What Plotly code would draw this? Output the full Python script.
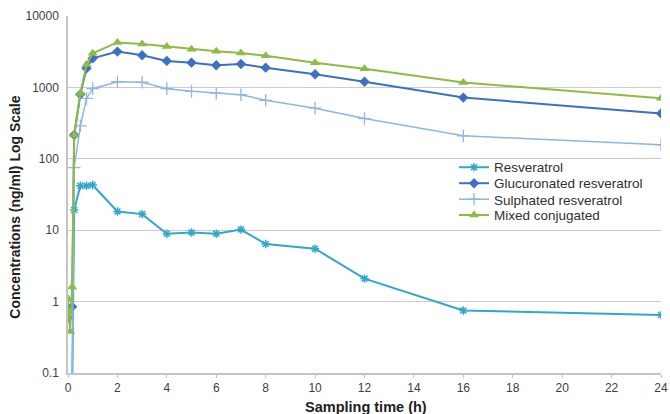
import plotly.graph_objects as go

# Sampling times (h)
t_res = [0.167, 0.25, 0.5, 0.75, 1, 2, 3, 4, 5, 6, 7, 8, 10, 12, 16, 24]
resveratrol = [0.05, 19.2, 42, 42, 43, 18.3, 16.8, 8.9, 9.3, 8.9, 10.2, 6.4, 5.5, 2.1, 0.75, 0.65]

t_glu = [0, 0.167, 0.25, 0.5, 0.75, 1, 2, 3, 4, 5, 6, 7, 8, 10, 12, 16, 24]
glucuronated = [0.6, 0.85, 215, 800, 1850, 2560, 3170, 2820, 2350, 2220, 2040, 2130, 1890, 1530, 1200, 720, 430]

t_sul = [0.167, 0.25, 0.5, 0.75, 1, 2, 3, 4, 5, 6, 7, 8, 10, 12, 16, 24]
sulphated = [0.05, 75, 290, 700, 960, 1200, 1180, 960, 880, 830, 790, 660, 512, 366, 210, 157]

t_mix = [0, 0.083, 0.167, 0.25, 0.5, 0.75, 1, 2, 3, 4, 5, 6, 7, 8, 10, 12, 16, 24]
mixed = [1.1, 0.38, 1.6, 215, 820, 2100, 3010, 4270, 4050, 3750, 3420, 3200, 3030, 2780, 2220, 1830, 1170, 706]

x_ticks = list(range(0, 25, 2))
y_ticks = [0.1, 1, 10, 100, 1000, 10000]
y_labels = ["0.1", "1", "10", "100", "1000", "10000"]

fig = go.Figure()
fig.add_trace(go.Scatter(x=t_res, y=resveratrol, name="Resveratrol", mode="lines+markers", legend="legend",
                         line=dict(color="#2fa8c9", width=2),
                         marker=dict(symbol="asterisk-open", size=7, color="#2fa8c9", line=dict(width=1.5, color="#2fa8c9"))))
fig.add_trace(go.Scatter(x=t_glu, y=glucuronated, name="Glucuronated resveratrol", mode="lines+markers", legend="legend2",
                         line=dict(color="#3b70c4", width=2),
                         marker=dict(symbol="diamond", size=8, color="#3b70c4")))
fig.add_trace(go.Scatter(x=t_sul, y=sulphated, name="Sulphated resveratrol", mode="lines+markers", legend="legend3",
                         line=dict(color="#8fb5e4", width=1.5),
                         marker=dict(symbol="cross-thin-open", size=9, color="#8fb5e4", line=dict(width=1.3, color="#8fb5e4"))))
fig.add_trace(go.Scatter(x=t_mix, y=mixed, name="Mixed conjugated", mode="lines+markers", legend="legend4",
                         line=dict(color="#8dbb45", width=2),
                         marker=dict(symbol="triangle-up", size=9, color="#8dbb45")))

leg_common = dict(x=0.651, xanchor="left", yanchor="middle",
                  font=dict(size=13.5, color="#303030"), bgcolor="rgba(0,0,0,0)", itemwidth=30)

fig.update_layout(
    width=670, height=414,
    margin=dict(l=68, r=9, t=16, b=41),
    paper_bgcolor="white", plot_bgcolor="white",
    font=dict(family="Liberation Sans, Arial, sans-serif", color="#404040", size=11),
    showlegend=True,
    legend=dict(y=0.576, **leg_common),
    legend2=dict(y=0.531, **leg_common),
    legend3=dict(y=0.486, **leg_common),
    legend4=dict(y=0.442, **leg_common),
    xaxis=dict(range=[0, 24], tickvals=x_ticks, showgrid=False, zeroline=False, automargin=False,
               showline=True, linecolor="#c4c4c4", linewidth=1.5,
               ticks="outside", ticklen=3, tickcolor="#c4c4c4",
               tickfont=dict(size=12, color="#404040")),
    yaxis=dict(type="log", range=[-1, 4], tickvals=y_ticks, ticktext=y_labels, automargin=False,
               showgrid=True, gridcolor="#cccccc", gridwidth=1.3, zeroline=False,
               showline=True, linecolor="#c4c4c4", linewidth=1.5,
               ticks="outside", ticklen=5, tickcolor="rgba(0,0,0,0)",
               tickfont=dict(size=12, color="#404040")),
    annotations=[
        dict(text="<b>Concentrations (ng/ml) Log Scale</b>", xref="paper", yref="paper",
             x=-0.089, y=0.4636, xanchor="center", yanchor="middle", textangle=-90,
             showarrow=False, font=dict(size=14, color="#202020")),
        dict(text="<b>Sampling time (h)</b>", xref="paper", yref="paper",
             x=0.5025, y=-0.0952, xanchor="center", yanchor="middle",
             showarrow=False, font=dict(size=14.5, color="#202020")),
    ],
)

fig.write_html("out.html", config={"displayModeBar": False},
               post_script="document.body.style.margin='0';document.body.style.overflow='hidden';")
